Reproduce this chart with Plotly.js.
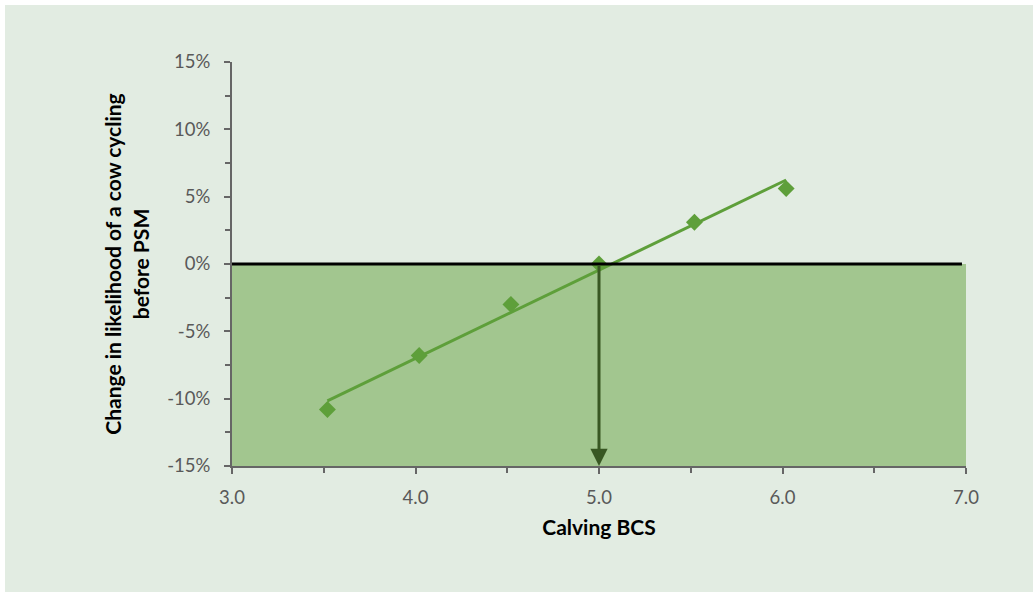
<!DOCTYPE html>
<html>
<head>
<meta charset="utf-8">
<script src="https://cdn.plot.ly/plotly-3.0.1.min.js"></script>
<style>
  html, body { margin: 0; padding: 0; background: #ffffff; }
  #chart { position: absolute; left: 5px; top: 5px; width: 1028px; height: 587px; }
</style>
</head>
<body>
<div id="chart"></div>
<script>
// Calving body condition score vs. change in likelihood of cycling before PSM (%)
const calvingBCS = [3.52, 4.02, 4.52, 5.0, 5.52, 6.02];
const changePct  = [-10.8, -6.8, -3.0, 0.0, 3.1, 5.6];
const xTickVals  = [3, 4, 5, 6, 7];
const xTickText  = ['3.0', '4.0', '5.0', '6.0', '7.0'];
const yTickVals  = [-15, -10, -5, 0, 5, 10, 15];
const yTickText  = ['-15%', '-10%', '-5%', '0%', '5%', '10%', '15%'];
const thresholdBCS = 5.0;

// least-squares linear trend through the points
function linearFit(xs, ys) {
  const n = xs.length;
  const mx = xs.reduce((a, b) => a + b, 0) / n;
  const my = ys.reduce((a, b) => a + b, 0) / n;
  let sxy = 0, sxx = 0;
  for (let i = 0; i < n; i++) {
    sxy += (xs[i] - mx) * (ys[i] - my);
    sxx += (xs[i] - mx) * (xs[i] - mx);
  }
  const slope = sxy / sxx;
  return { slope, intercept: my - slope * mx };
}
const fit = linearFit(calvingBCS, changePct);
const trendX = [calvingBCS[0], calvingBCS[calvingBCS.length - 1]];
const trendY = trendX.map(x => fit.intercept + fit.slope * x);

const green = '#5e9f3a';
const font = 'Lato, "Open Sans", sans-serif';
const tickFont = { family: font, size: 18.5, color: '#595959' };
const titleFont = { family: font, size: 21, color: '#000000', weight: 'bold' };

const traces = [
  {
    x: trendX, y: trendY, type: 'scatter', mode: 'lines',
    line: { color: green, width: 3 }, hoverinfo: 'skip', showlegend: false
  },
  {
    x: calvingBCS, y: changePct, type: 'scatter', mode: 'markers',
    marker: { symbol: 'diamond', size: 13, color: green },
    showlegend: false
  }
];

const layout = {
  width: 1028, height: 587,
  paper_bgcolor: '#e2ece2', plot_bgcolor: 'rgba(0,0,0,0)',
  margin: { l: 227, r: 67, t: 57, b: 126 },
  font: { family: font, size: 16, color: '#595959' },
  showlegend: false,
  xaxis: {
    range: [3, 7], tickvals: xTickVals, ticktext: xTickText,
    showgrid: false, zeroline: false,
    showline: true, linecolor: '#666666', linewidth: 2,
    ticks: 'outside', ticklen: 6, tickwidth: 2, tickcolor: '#666666',
    minor: { dtick: 0.5, ticks: 'outside', ticklen: 5, tickwidth: 2, tickcolor: '#666666', showgrid: false },
    tickfont: tickFont, ticklabelstandoff: 8,
    title: { text: 'Calving BCS', standoff: 13, font: titleFont }
  },
  yaxis: {
    range: [-15, 15], tickvals: yTickVals, ticktext: yTickText,
    showgrid: false, zeroline: false,
    showline: true, linecolor: '#666666', linewidth: 2,
    ticks: 'outside', ticklen: 6, tickwidth: 2, tickcolor: '#666666',
    minor: { dtick: 2.5, ticks: 'outside', ticklen: 5, tickwidth: 2, tickcolor: '#666666', showgrid: false },
    tickfont: tickFont, ticklabelstandoff: 10,
    title: { text: 'Change in likelihood of a cow cycling<br>before PSM', standoff: 12, font: titleFont }
  },
  shapes: [
    { type: 'rect', xref: 'x', yref: 'y', x0: 3, x1: 7, y0: -15, y1: 0,
      fillcolor: '#a2c68f', line: { width: 0 }, layer: 'below' },
    { type: 'line', xref: 'x', yref: 'y', x0: 2.967, x1: 6.978, y0: 0, y1: 0,
      line: { color: '#000000', width: 3 }, layer: 'above' }
  ],
  annotations: [
    { x: thresholdBCS, y: -15, ax: thresholdBCS, ay: 0, xref: 'x', yref: 'y', axref: 'x', ayref: 'y',
      text: '', showarrow: true, arrowhead: 2, arrowsize: 1.15, arrowwidth: 3, arrowcolor: '#385723' }
  ]
};

Plotly.newPlot('chart', traces, layout, { displayModeBar: false, staticPlot: true });
</script>
</body>
</html>
